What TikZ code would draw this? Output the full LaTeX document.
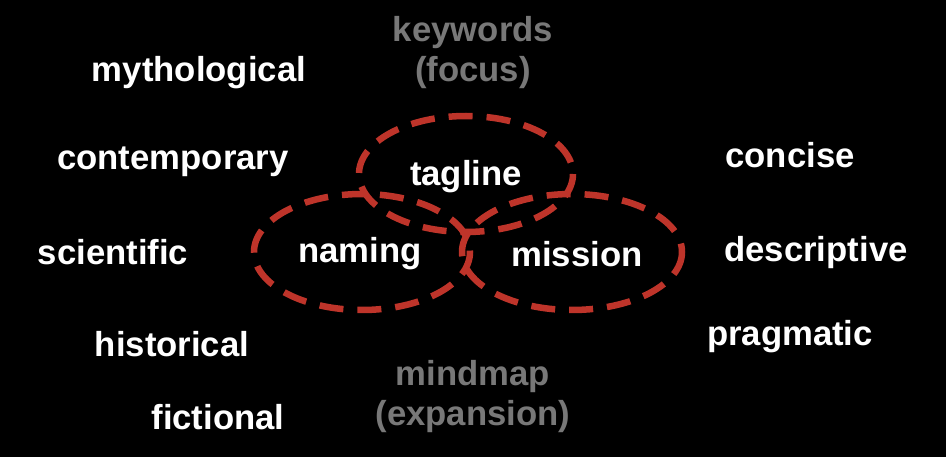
\documentclass[tikz,border=0pt]{standalone}
\usepackage{fontspec}
\setmainfont{Liberation Sans}
\begin{document}
\begin{tikzpicture}[x=1pt,y=-1pt,
  word/.style={text=white,font=\fontsize{34.7}{40}\selectfont\bfseries,inner sep=0pt,anchor=center},
  grayword/.style={text=graytxt,font=\fontsize{34.7}{40}\selectfont\bfseries,inner sep=0pt,align=center,anchor=center},
  ring/.style={draw=ringred,line width=6.5pt,dash pattern=on 24pt off 14pt}]
\definecolor{ringred}{RGB}{190,52,42}
\definecolor{graytxt}{RGB}{120,120,120}
\fill[black] (0,0) rectangle (946,457);
\useasboundingbox (0,0) rectangle (946,457);
% rings
\draw[ring] (466,174) ellipse [x radius=107,y radius=58];
\draw[ring] (362,252) ellipse [x radius=108,y radius=58];
\draw[ring] (572,252) ellipse [x radius=110,y radius=58];
% center words
\node[word] (tagline) at (466,177) {tagline};
\node[word] (naming) at (360,254) {naming};
\node[word] (mission) at (577,254) {mission};
% gray
\node[grayword] (keywords) at (473,53) {keywords\\(focus)};
\node[grayword] (mindmap) at (473,397) {mindmap\\(expansion)};
% left
\node[word] (myth) at (199,73) {mythological};
\node[word] (cont) at (173,162) {contemporary};
\node[word] (sci) at (113,252) {scientific};
\node[word] (hist) at (172,344) {historical};
\node[word] (fict) at (218,417) {fictional};
% right
\node[word] (conc) at (790,155) {concise};
\node[word] (desc) at (816,253) {descriptive};
\node[word] (prag) at (790,337) {pragmatic};
\end{tikzpicture}
\end{document}
